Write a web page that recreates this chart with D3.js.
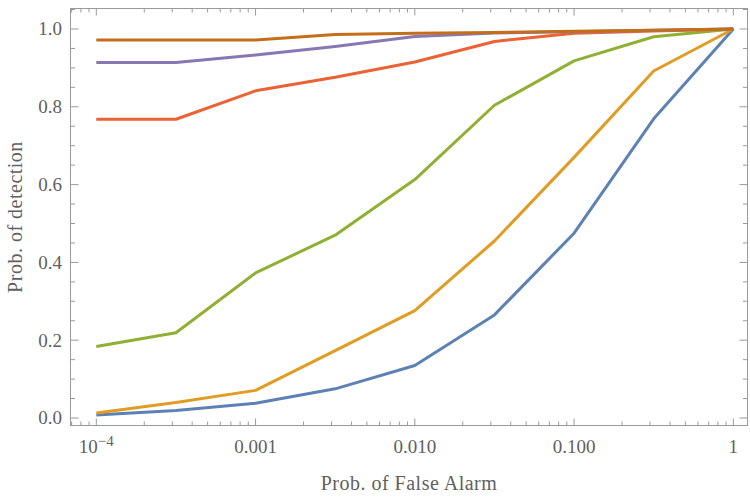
<!DOCTYPE html>
<html>
<head>
<meta charset="utf-8">
<script src="https://cdn.jsdelivr.net/npm/d3@7"></script>
<style>
  html, body { margin: 0; padding: 0; background: #fff; }
  svg { display: block; }
  text { font-family: "Liberation Serif", "Times New Roman", serif; fill: #5f5f5f; }
</style>
</head>
<body>
<svg id="chart" width="750" height="498"></svg>
<script>
// ---- data ----
const falseAlarm = [1e-4, 3.162e-4, 1e-3, 3.162e-3, 1e-2, 3.162e-2, 0.1, 0.3162, 1];
const seriesBlue   = [0.008, 0.019, 0.038, 0.075, 0.135, 0.265, 0.475, 0.769, 1.0];
const seriesOrange = [0.013, 0.040, 0.071, 0.173, 0.276, 0.455, 0.670, 0.892, 1.0];
const seriesGreen  = [0.184, 0.219, 0.373, 0.470, 0.613, 0.804, 0.918, 0.980, 1.0];
const seriesRed    = [0.768, 0.768, 0.841, 0.876, 0.915, 0.968, 0.989, 0.995, 1.0];
const seriesPurple = [0.914, 0.914, 0.933, 0.955, 0.981, 0.990, 0.993, 0.997, 1.0];
const seriesBrown  = [0.972, 0.972, 0.972, 0.986, 0.989, 0.991, 0.994, 0.997, 1.0];
const seriesColors = ["#5E81B5", "#E19C24", "#8FB032", "#EB6235", "#8778B3", "#C56E1A"];
const xTickValues = [1e-4, 1e-3, 1e-2, 1e-1, 1];
const xTickLabels = ["10^-4", "0.001", "0.010", "0.100", "1"];
const yTickValues = [0, 0.2, 0.4, 0.6, 0.8, 1.0];
const yTickLabels = ["0.0", "0.2", "0.4", "0.6", "0.8", "1.0"];
const xLabel = "Prob. of False Alarm";
const yLabel = "Prob. of detection";

const allSeries = [seriesBlue, seriesOrange, seriesGreen, seriesRed, seriesPurple, seriesBrown];

// ---- layout ----
const svg = d3.select("#chart");
const L = 70.5, R = 747.5, T = 8.5, B = 425.5;

const x = d3.scaleLog().domain([Math.pow(10, -4.162), Math.pow(10, 0.089)]).range([L, R]);
const y = d3.scaleLinear().domain([-0.0193, 1.0527]).range([B, T]);

const frameColor = "#9a9a9a";

const xMinor = [];
for (let e = -5; e <= 0; e++) {
  for (let m = 2; m <= 9; m++) {
    const v = m * Math.pow(10, e);
    if (v > x.domain()[0] && v < x.domain()[1]) xMinor.push(v);
  }
}
const yMinor = [];
for (let k = 0; k <= 21; k++) {
  const r = k * 0.05;
  if (k % 4 !== 0 && r < y.domain()[1]) yMinor.push(r);
}

const g = svg.append("g");

function xTicks(vals, len) {
  vals.forEach(v => {
    const px = x(v);
    g.append("line").attr("x1", px).attr("x2", px).attr("y1", B).attr("y2", B - len)
      .attr("stroke", frameColor).attr("stroke-width", 1);
    g.append("line").attr("x1", px).attr("x2", px).attr("y1", T).attr("y2", T + len)
      .attr("stroke", frameColor).attr("stroke-width", 1);
  });
}
function yTicks(vals, len) {
  vals.forEach(v => {
    const py = y(v);
    g.append("line").attr("x1", L).attr("x2", L + len).attr("y1", py).attr("y2", py)
      .attr("stroke", frameColor).attr("stroke-width", 1);
    g.append("line").attr("x1", R).attr("x2", R - len).attr("y1", py).attr("y2", py)
      .attr("stroke", frameColor).attr("stroke-width", 1);
  });
}
xTicks(xTickValues, 7);
xTicks(xMinor, 4);
yTicks(yTickValues, 8);
yTicks(yMinor, 4.5);

g.append("rect").attr("x", L).attr("y", T).attr("width", R - L).attr("height", B - T)
  .attr("fill", "none").attr("stroke", frameColor).attr("stroke-width", 1);

const line = d3.line().x((d, i) => x(falseAlarm[i])).y(d => y(d));
allSeries.forEach((s, i) => {
  g.append("path").datum(s).attr("d", line)
    .attr("fill", "none").attr("stroke", seriesColors[i])
    .attr("stroke-width", 3).attr("stroke-linejoin", "round").attr("stroke-linecap", "butt");
});

const fs = 19;
xTickValues.forEach((v, i) => {
  const lab = xTickLabels[i];
  const t = svg.append("text").attr("x", x(v)).attr("y", 453)
    .attr("text-anchor", "middle").style("font-size", fs + "px");
  if (lab.includes("^")) {
    const [base, exp] = lab.split("^");
    t.append("tspan").text(base);
    t.append("tspan").attr("dy", -7).style("font-size", "15px").text(exp.replace("-", "\u2212"));
  } else {
    t.text(lab);
  }
});
yTickValues.forEach((v, i) => {
  svg.append("text").attr("x", 62).attr("y", y(v) + 6.5)
    .attr("text-anchor", "end").style("font-size", fs + "px").text(yTickLabels[i]);
});

svg.append("text").attr("x", (L + R) / 2).attr("y", 490)
  .attr("text-anchor", "middle").style("font-size", "20px").style("letter-spacing", "0.5px").text(xLabel);
svg.append("text").attr("transform", `translate(22,${(T + B) / 2}) rotate(-90)`)
  .attr("text-anchor", "middle").style("font-size", "20px").style("letter-spacing", "0.5px").text(yLabel);
</script>
</body>
</html>
